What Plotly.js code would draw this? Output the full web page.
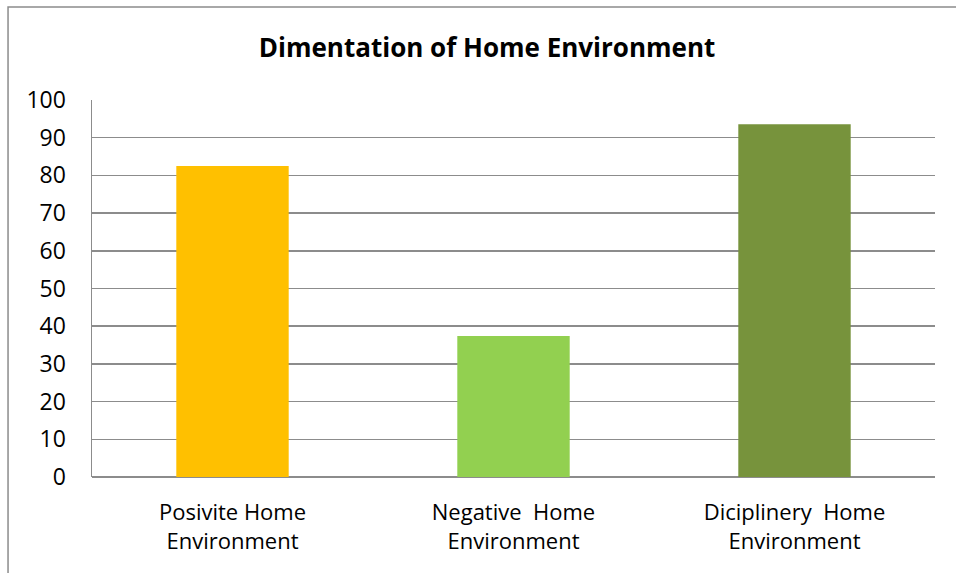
<!DOCTYPE html>
<html>
<head>
<meta charset="utf-8">
<script src="https://cdn.plot.ly/plotly-3.0.1.min.js"></script>
<style>html,body{margin:0;padding:0;background:#fff;}#chart{width:956px;height:573px;}</style>
</head>
<body>
<div id="chart"></div>
<script>
const categories = ["Posivite Home<br>Environment", "Negative  Home<br>Environment", "Diciplinery  Home<br>Environment"];
const values = [82.5, 37.4, 93.6];
const colors = ["#FFC000", "#92D050", "#77933C"];
const yTicks = [0, 10, 20, 30, 40, 50, 60, 70, 80, 90, 100];
const titleText = "Dimentation of Home Environment";

const FONT = "'Open Sans', Lato, sans-serif";

const trace = {
  type: "bar",
  x: categories,
  y: values,
  marker: {color: colors},
  width: 0.4,
  hoverinfo: "skip"
};

const layout = {
  width: 956,
  height: 573,
  margin: {l: 92, r: 21, t: 100, b: 96},
  paper_bgcolor: "#ffffff",
  plot_bgcolor: "#ffffff",
  showlegend: false,
  title: {
    text: "<b>" + titleText + "</b>",
    font: {family: FONT, size: 26, color: "#000000"},
    x: 0.4686, xref: "paper", y: 0.916, yref: "container", xanchor: "center", yanchor: "middle"
  },
  xaxis: {
    type: "category",
    showgrid: false,
    showline: false,
    zeroline: false,
    ticks: "",
    tickfont: {family: FONT, size: 22, color: "#000000"},
    ticklabelstandoff: 20,
    fixedrange: true
  },
  yaxis: {
    range: [0, 100],
    tickvals: yTicks,
    ticktext: yTicks.map(String),
    showgrid: true,
    gridcolor: "#8c8c8c",
    gridwidth: 1.5,
    showline: true,
    linecolor: "#8c8c8c",
    linewidth: 1.5,
    zeroline: true,
    zerolinecolor: "#8c8c8c",
    zerolinewidth: 1.5,
    ticks: "",
    tickfont: {family: FONT, size: 23, color: "#000000"},
    ticklabelstandoff: 20,
    fixedrange: true
  },
  shapes: [{
    type: "rect", xref: "paper", yref: "paper",
    x0: -0.0996, x1: 1.2, y0: -0.5, y1: 1.2467,
    line: {color: "#8c8c8c", width: 1.5},
    fillcolor: "rgba(0,0,0,0)",
    layer: "below"
  }]
};

Plotly.newPlot("chart", [trace], layout, {displayModeBar: false, staticPlot: true});
</script>
</body>
</html>
